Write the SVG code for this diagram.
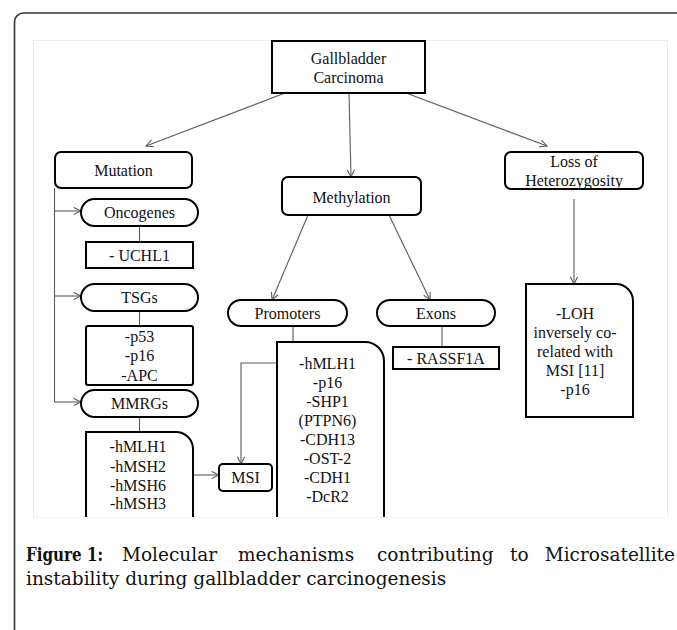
<svg xmlns="http://www.w3.org/2000/svg" width="677" height="630" viewBox="0 0 677 630">
<style>
.t{font-family:"Liberation Serif","Times New Roman",serif;font-size:16px;fill:#111;text-anchor:middle}
.box{fill:#fff;stroke:#000;stroke-width:2}
.con{fill:none;stroke:#5a5a5a;stroke-width:1.1}
.cap{font-family:"DejaVu Serif",serif;font-size:18.5px;fill:#111}
</style>
<defs>
<marker id="arr" viewBox="0 0 10 10" refX="9" refY="5" markerWidth="9" markerHeight="9" markerUnits="userSpaceOnUse" orient="auto">
<path d="M1,1 L9,5 L1,9" fill="none" stroke="#5a5a5a" stroke-width="1.2"/>
</marker>
</defs>
<rect width="677" height="630" fill="#fff"/>
<path d="M14.5,630 V22 A9,9 0 0 1 23.5,13 H677" fill="none" stroke="#333" stroke-width="1.6"/>
<rect x="33.5" y="40.5" width="634" height="477" fill="#fff" stroke="#ececec" stroke-width="1"/>

<g id="connectors">
<line class="con" x1="285" y1="93" x2="146" y2="146" marker-end="url(#arr)"/>
<line class="con" x1="349" y1="93" x2="351" y2="177" marker-end="url(#arr)"/>
<line class="con" x1="406" y1="93" x2="547" y2="146" marker-end="url(#arr)"/>
<path class="con" d="M54.5,188 V402"/>
<line class="con" x1="54.5" y1="211" x2="81" y2="211" marker-end="url(#arr)"/>
<line class="con" x1="54.5" y1="296" x2="81" y2="296" marker-end="url(#arr)"/>
<line class="con" x1="54.5" y1="402" x2="81" y2="402" marker-end="url(#arr)"/>
<line class="con" x1="139.5" y1="226" x2="139.5" y2="242"/>
<line class="con" x1="139.5" y1="311" x2="139.5" y2="326"/>
<line class="con" x1="139.5" y1="417" x2="139.5" y2="432"/>
<line class="con" x1="193" y1="475" x2="219" y2="475" marker-end="url(#arr)"/>
<path class="con" d="M293,363 H241 V464" marker-end="url(#arr)"/>
<line class="con" x1="308" y1="215" x2="272" y2="300" marker-end="url(#arr)"/>
<line class="con" x1="389" y1="215" x2="430" y2="300" marker-end="url(#arr)"/>
<line class="con" x1="293" y1="326" x2="293" y2="342"/>
<line class="con" x1="442" y1="326" x2="442" y2="347"/>
<line class="con" x1="574" y1="199" x2="574" y2="284" marker-end="url(#arr)"/>
</g>

<g id="gbc">
<rect class="box" x="272" y="41" width="153" height="52"/>
<text class="t" x="348.5" y="63.5">Gallbladder</text>
<text class="t" x="348.5" y="82.5">Carcinoma</text>
</g>
<g id="mutation">
<rect class="box" x="55" y="152" width="137" height="36" rx="6"/>
<text class="t" x="123.5" y="176">Mutation</text>
</g>
<g id="methylation">
<rect class="box" x="282" y="177" width="139" height="38" rx="6"/>
<text class="t" x="351.5" y="202.5">Methylation</text>
</g>
<g id="loh">
<rect class="box" x="505" y="152" width="138" height="37" rx="6"/>
<text class="t" x="574" y="166.5">Loss of</text>
<text class="t" x="574" y="185.5">Heterozygosity</text>
</g>
<g id="oncogenes">
<rect class="box" x="81" y="199" width="117" height="27" rx="13.5"/>
<text class="t" x="139.5" y="218">Oncogenes</text>
</g>
<g id="uchl1">
<rect class="box" x="86" y="242" width="107" height="26"/>
<text class="t" x="139.5" y="260.5">- UCHL1</text>
</g>
<g id="tsgs">
<rect class="box" x="81" y="284" width="117" height="27" rx="13.5"/>
<text class="t" x="139.5" y="303">TSGs</text>
</g>
<g id="tsg-list">
<rect class="box" x="86" y="326" width="107" height="59" rx="2"/>
<text class="t" x="139.5" y="342">-p53</text>
<text class="t" x="139.5" y="361">-p16</text>
<text class="t" x="139.5" y="380.5">-APC</text>
</g>
<g id="mmrgs">
<rect class="box" x="81" y="390" width="117" height="27" rx="13.5"/>
<text class="t" x="139.5" y="409">MMRGs</text>
</g>
<g id="mmrg-list">
<path class="box" d="M86,517 V432 H176 A17,17 0 0 1 193,449 V517"/>
<text class="t" x="138" y="452">-hMLH1</text>
<text class="t" x="138" y="471.5">-hMSH2</text>
<text class="t" x="138" y="490.5">-hMSH6</text>
<text class="t" x="138" y="509">-hMSH3</text>
</g>
<g id="msi">
<rect class="box" x="219" y="464" width="53" height="27" rx="4"/>
<text class="t" x="245.5" y="483">MSI</text>
</g>
<g id="promoters">
<rect class="box" x="228" y="300" width="119" height="26" rx="13"/>
<text class="t" x="287.5" y="318.5">Promoters</text>
</g>
<g id="promoter-list">
<path class="box" d="M277,517 V342 H365 A19,19 0 0 1 384,361 V517"/>
<text class="t" x="327.5" y="368.5">-hMLH1</text>
<text class="t" x="327.5" y="388">-p16</text>
<text class="t" x="327.5" y="407">-SHP1</text>
<text class="t" x="327.5" y="426">(PTPN6)</text>
<text class="t" x="327.5" y="445">-CDH13</text>
<text class="t" x="327.5" y="464">-OST-2</text>
<text class="t" x="327.5" y="483">-CDH1</text>
<text class="t" x="327.5" y="502">-DcR2</text>
</g>
<g id="exons">
<rect class="box" x="377" y="300" width="118" height="26" rx="13"/>
<text class="t" x="436" y="318.5">Exons</text>
</g>
<g id="rassf1a">
<rect class="box" x="393" y="347" width="106" height="22"/>
<text class="t" x="446" y="363.5">- RASSF1A</text>
</g>
<g id="loh-list">
<path class="box" d="M526,417 V284 H616 A17,17 0 0 1 633,301 V417 Z"/>
<text class="t" x="575" y="318.5">-LOH</text>
<text class="t" x="575" y="337.5">inversely co-</text>
<text class="t" x="575" y="356.5">related with</text>
<text class="t" x="575" y="375.5">MSI [11]</text>
<text class="t" x="575" y="394.5">-p16</text>
</g>
<rect x="30" y="517.5" width="640" height="6" fill="#fff"/>

<g id="caption">
<text class="cap" x="26" y="561" font-weight="bold" textLength="77" lengthAdjust="spacingAndGlyphs">Figure 1:</text>
<text class="cap" x="122" y="561">Molecular</text>
<text class="cap" x="238" y="561">mechanisms</text>
<text class="cap" x="377" y="561">contributing</text>
<text class="cap" x="510" y="561">to</text>
<text class="cap" x="675" y="561" text-anchor="end">Microsatellite</text>
<text class="cap" x="26" y="585">instability during gallbladder carcinogenesis</text>
</g>
</svg>
